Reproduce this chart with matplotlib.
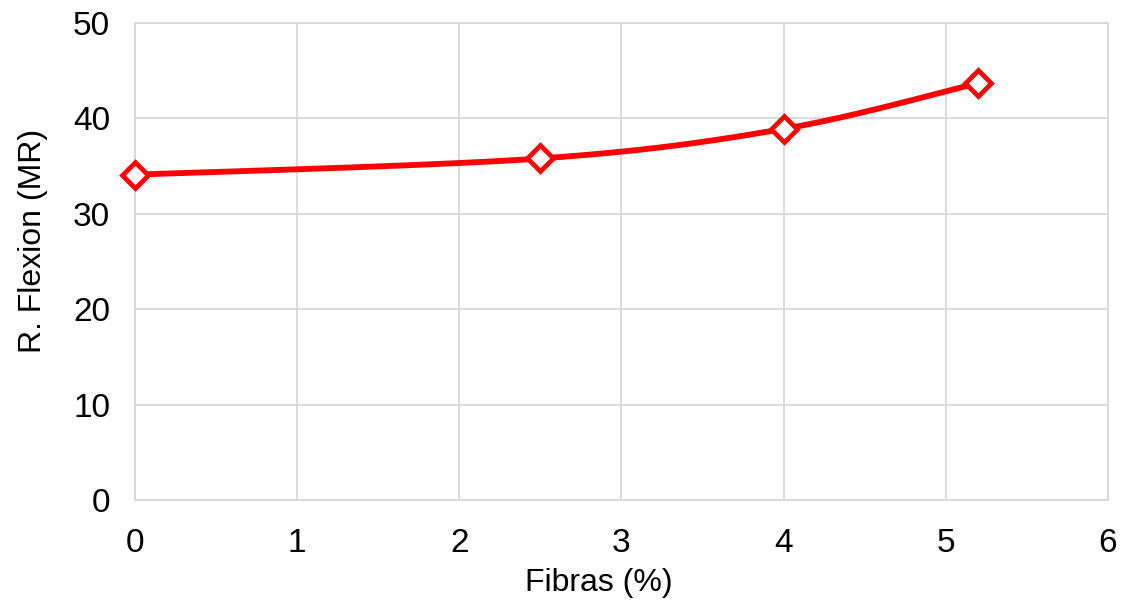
import numpy as np
import matplotlib.pyplot as plt

fibras = [0, 2.5, 4, 5.2]
flexion = [34.1, 35.8, 38.9, 43.7]
x_ticks = [0, 1, 2, 3, 4, 5, 6]
y_ticks = [0, 10, 20, 30, 40, 50]


def smooth_curve(xs, ys, n=60):
    # Excel-style smoothed line: cubic Bezier segments, Catmull-Rom tangents
    p = np.column_stack([xs, ys]).astype(float)
    out = []
    for i in range(len(p) - 1):
        p0 = p[i - 1] if i > 0 else p[i]
        p1 = p[i]
        p2 = p[i + 1]
        p3 = p[i + 2] if i + 2 < len(p) else p[i + 1]
        c1 = p1 + (p2 - p0) / 6
        c2 = p2 - (p3 - p1) / 6
        t = np.linspace(0, 1, n)[:, None]
        seg = ((1 - t) ** 3) * p1 + 3 * ((1 - t) ** 2) * t * c1 + 3 * (1 - t) * t ** 2 * c2 + t ** 3 * p2
        out.append(seg)
    pts = np.vstack(out)
    return pts[:, 0], pts[:, 1]


plt.rcParams['font.family'] = ['Liberation Sans', 'DejaVu Sans']

fig = plt.figure(figsize=(11.27, 6.01), dpi=100)
ax = fig.add_axes([0.1198, 0.1681, 0.8633, 0.7936])

sx, sy = smooth_curve(fibras, flexion)
ax.plot(sx, sy, color='#ff0000', lw=4.2, solid_capstyle='round', zorder=3, clip_on=False)
ax.plot(fibras, flexion, linestyle='none', marker='D', markersize=13,
        markerfacecolor='white', markeredgecolor='#ff0000', markeredgewidth=3.4,
        zorder=4, clip_on=False)

ax.set_xlim(0, 6)
ax.set_ylim(0, 50)
ax.set_xticks(x_ticks)
ax.set_yticks(y_ticks)
ax.tick_params(axis='both', length=0, labelsize=24)
ax.tick_params(axis='x', pad=20)
ax.tick_params(axis='y', pad=18)
ax.grid(True, color='#d9d9d9', lw=1.3)
ax.set_axisbelow(True)
for s in ax.spines.values():
    s.set_color('#d9d9d9')
    s.set_linewidth(1.3)

ax.set_xlabel('Fibras (%)', fontsize=23, labelpad=7)
ax.set_ylabel('R. Flexion (MR)', fontsize=23, labelpad=18)
ax.xaxis.label.set_x(0.477)
ax.yaxis.label.set_y(0.543)

fig.savefig('out.png', dpi=100)
